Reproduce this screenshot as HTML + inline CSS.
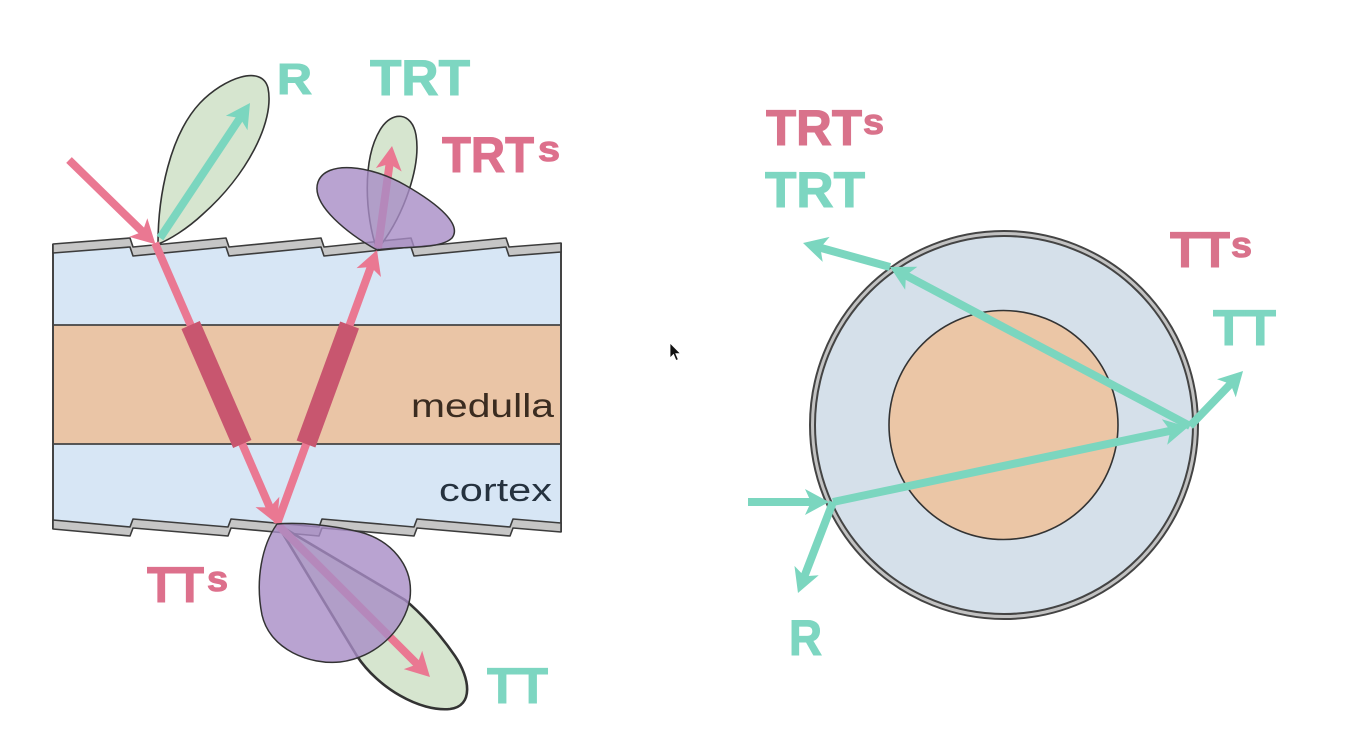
<!DOCTYPE html>
<html>
<head>
<meta charset="utf-8">
<style>
  html,body{margin:0;padding:0;background:#ffffff;}
  svg{display:block;}
  .lbl{font-family:"Liberation Sans",Arial,sans-serif;font-weight:bold;stroke-width:1.1;}
  .lyr{font-family:"Liberation Sans",Arial,sans-serif;}
</style>
</head>
<body>
<svg width="1362" height="737" viewBox="0 0 1362 737" xmlns="http://www.w3.org/2000/svg">
  <defs>
    <marker id="ph" viewBox="-17 -15 28 30" refX="0" refY="0" markerWidth="28" markerHeight="30" markerUnits="userSpaceOnUse" orient="auto">
      <path d="M9,0 L-15,-13 L-9,0 L-15,13 Z" fill="#ea7892"/>
    </marker>
    <marker id="th" viewBox="-17 -15 28 30" refX="0" refY="0" markerWidth="28" markerHeight="30" markerUnits="userSpaceOnUse" orient="auto">
      <path d="M9,0 L-15,-13 L-9,0 L-15,13 Z" fill="#7bd6bf"/>
    </marker>
  </defs>

  <rect x="0" y="0" width="1362" height="737" fill="#ffffff"/>

  <!-- ===== LEFT DIAGRAM ===== -->
  <polygon points="53,249 130,243 133,252 226,243 229,252 321,243 324,252 411,243 414,252 506,243 509,252 561,248 561,527 513,523 510,531 417,523 414,531 322,523 319,531 231,523 228,531 133,523 130,531 53,524" fill="#d7e6f5"/>
  <rect x="53" y="325" width="508" height="119" fill="#eac5a6"/>
  <line x1="53" y1="325" x2="561" y2="325" stroke="#444" stroke-width="1.8"/>
  <line x1="53" y1="444" x2="561" y2="444" stroke="#444" stroke-width="1.8"/>
  <line x1="53" y1="244" x2="53" y2="529" stroke="#444" stroke-width="2"/>
  <line x1="561" y1="243" x2="561" y2="532" stroke="#444" stroke-width="2"/>
  <polygon points="53,244 130,238 133,247 226,238 229,247 321,238 324,247 411,238 414,247 506,238 509,247 561,243 561,252 509,256 506,247 414,256 411,247 324,256 321,247 229,256 226,247 133,256 130,247 53,253" fill="#c6c6c6" stroke="#3c3c3c" stroke-width="1.6" stroke-linejoin="round"/>
  <polygon points="53,520 130,527 133,519 228,527 231,519 319,527 322,519 414,527 417,519 510,527 513,519 561,523 561,532 513,528 510,536 417,528 414,536 322,528 319,536 231,528 228,536 133,528 130,536 53,529" fill="#c6c6c6" stroke="#3c3c3c" stroke-width="1.6" stroke-linejoin="round"/>

  <text class="lyr" x="411" y="417" font-size="33" fill="#3b2c20" textLength="143" lengthAdjust="spacingAndGlyphs">medulla</text>
  <text class="lyr" x="439" y="501" font-size="32" fill="#25323f" textLength="113" lengthAdjust="spacingAndGlyphs">cortex</text>

  <!-- green lobes -->
  <path d="M158,244 C158,195 170,135 200,103 C224,78 262,64 268,88 C275,122 246,176 203,214 C187,229 169,240 158,244 Z" fill="#d6e5cf" stroke="#333" stroke-width="1.6"/>
  <path d="M377,250 C365,215 362,160 380,130 C392,110 412,112 416,135 C421,165 405,215 377,250 Z" fill="#d6e5cf" stroke="#333" stroke-width="1.6"/>
  <path d="M277,524 L357,656 C378,688 420,712 450,709 C474,706 470,678 455,656 C440,634 420,612 405,600 Z" fill="#d6e5cf" stroke="#333" stroke-width="2.6" stroke-linejoin="round"/>

  <!-- pink arrows -->
  <line x1="69" y1="160" x2="149" y2="238" stroke="#ea7892" stroke-width="8" marker-end="url(#ph)"/>
  <line x1="155" y1="243" x2="273.4" y2="515.7" stroke="#ea7892" stroke-width="8" marker-end="url(#ph)"/>
  <line x1="277" y1="524" x2="373.9" y2="258.5" stroke="#ea7892" stroke-width="8" marker-end="url(#ph)"/>
  <line x1="378" y1="248" x2="390.8" y2="154.9" stroke="#ea7892" stroke-width="8" marker-end="url(#ph)"/>
  <line x1="277" y1="524" x2="423.6" y2="670.6" stroke="#ea7892" stroke-width="8" marker-end="url(#ph)"/>
  <line x1="190.6" y1="325" x2="242.3" y2="444" stroke="#c8566f" stroke-width="20"/>
  <line x1="306" y1="444" x2="349.6" y2="325" stroke="#c8566f" stroke-width="20"/>

  <line x1="160" y1="238" x2="245" y2="110.5" stroke="#7bd6bf" stroke-width="8" marker-end="url(#th)"/>

  <!-- purple lobes -->
  <path d="M377,250 C350,235 310,205 318,182 C326,160 370,165 405,185 C440,205 462,225 452,238 C440,250 400,246 377,250 Z" fill="#a78cc6" fill-opacity="0.8" stroke="#333" stroke-width="1.5"/>
  <path d="M277,524 C262,545 255,580 262,615 C270,650 310,665 340,662 C375,658 405,630 410,598 C414,565 390,540 360,532 C330,525 300,522 277,524 Z" fill="#a78cc6" fill-opacity="0.8" stroke="#333" stroke-width="1.5"/>

  <!-- left labels -->
  <text class="lbl" x="277" y="94" font-size="44" fill="#7dd6c1" stroke="#7dd6c1" textLength="35" lengthAdjust="spacingAndGlyphs">R</text>
  <text class="lbl" x="370" y="95" font-size="50" fill="#7dd6c1" stroke="#7dd6c1" textLength="100" lengthAdjust="spacingAndGlyphs">TRT</text>
  <text class="lbl" x="442" y="172" font-size="50" fill="#dd708c" stroke="#dd708c" textLength="92" lengthAdjust="spacingAndGlyphs">TRT</text>
  <text class="lbl" x="538" y="161" font-size="36" fill="#dd708c" stroke="#dd708c" textLength="22" lengthAdjust="spacingAndGlyphs">s</text>
  <text class="lbl" x="147" y="602" font-size="50" fill="#dd708c" stroke="#dd708c" textLength="57" lengthAdjust="spacingAndGlyphs">TT</text>
  <text class="lbl" x="207" y="591" font-size="36" fill="#dd708c" stroke="#dd708c" textLength="21" lengthAdjust="spacingAndGlyphs">s</text>
  <text class="lbl" x="487" y="703" font-size="50" fill="#7dd6c1" stroke="#7dd6c1" textLength="61" lengthAdjust="spacingAndGlyphs">TT</text>

  <!-- cursor -->
  <polygon points="670,343 670,358 673.5,354.5 676,360.5 678.3,359.5 675.8,353.6 680.5,353.6" fill="#111" stroke="#fff" stroke-width="0.8"/>

  <!-- ===== RIGHT DIAGRAM ===== -->
  <circle cx="1004" cy="425" r="191.5" fill="#d5e0ea" stroke="#444" stroke-width="7"/>
  <circle cx="1004" cy="425" r="191.5" fill="none" stroke="#c2c2c2" stroke-width="3"/>
  <circle cx="1003.5" cy="425" r="114.5" fill="#ebc6a6" stroke="#333" stroke-width="1.6"/>

  <line x1="748" y1="502" x2="820" y2="502" stroke="#7bd6bf" stroke-width="8" marker-end="url(#th)"/>
  <line x1="833" y1="502" x2="801.2" y2="584.6" stroke="#7bd6bf" stroke-width="8" marker-end="url(#th)"/>
  <line x1="833" y1="502" x2="1179.2" y2="428.9" stroke="#7bd6bf" stroke-width="8" marker-end="url(#th)"/>
  <line x1="1190" y1="426" x2="1236.8" y2="377.5" stroke="#7bd6bf" stroke-width="8" marker-end="url(#th)"/>
  <line x1="1190" y1="426" x2="898" y2="271.2" stroke="#7bd6bf" stroke-width="8" marker-end="url(#th)"/>
  <line x1="890" y1="267" x2="811.7" y2="245.4" stroke="#7bd6bf" stroke-width="8" marker-end="url(#th)"/>

  <!-- right labels -->
  <text class="lbl" x="766" y="145" font-size="50" fill="#d9728b" stroke="#d9728b" textLength="96" lengthAdjust="spacingAndGlyphs">TRT</text>
  <text class="lbl" x="863" y="134" font-size="36" fill="#d9728b" stroke="#d9728b" textLength="21" lengthAdjust="spacingAndGlyphs">s</text>
  <text class="lbl" x="765" y="207" font-size="50" fill="#7dd6c1" stroke="#7dd6c1" textLength="100" lengthAdjust="spacingAndGlyphs">TRT</text>
  <text class="lbl" x="1170" y="267" font-size="50" fill="#d9728b" stroke="#d9728b" textLength="60" lengthAdjust="spacingAndGlyphs">TT</text>
  <text class="lbl" x="1231" y="257" font-size="36" fill="#d9728b" stroke="#d9728b" textLength="21" lengthAdjust="spacingAndGlyphs">s</text>
  <text class="lbl" x="1213" y="345" font-size="50" fill="#7dd6c1" stroke="#7dd6c1" textLength="63" lengthAdjust="spacingAndGlyphs">TT</text>
  <text class="lbl" x="789" y="655" font-size="50" fill="#7dd6c1" stroke="#7dd6c1" textLength="33" lengthAdjust="spacingAndGlyphs">R</text>
</svg>
</body>
</html>
